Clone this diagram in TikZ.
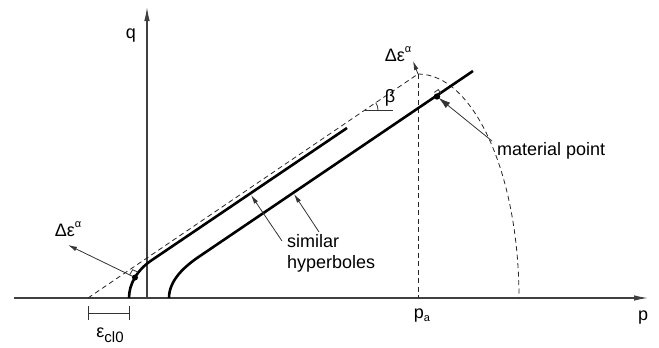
\documentclass[tikz,border=0pt]{standalone}
\usepackage{fontspec}
\setmainfont{Liberation Sans}
\usetikzlibrary{arrows.meta,calc}
\begin{document}
\begin{tikzpicture}[x=1pt,y=-1pt,
  axis/.style={line width=1.1pt, draw=black!75, -{Latex[length=14pt,width=5.5pt]}},
  hyp/.style={line width=2.6pt},
  thin/.style={line width=0.8pt, draw=black!80},
  dsh/.style={line width=0.8pt, draw=black!85, dash pattern=on 5pt off 3.5pt},
  lbl/.style={font=\fontsize{18}{21}\selectfont, inner sep=0pt},
  arr/.style={thin, -{Latex[length=9pt,width=4.5pt]}},
  bigarr/.style={thin, -{Latex[length=12pt,width=7pt]}},
  dotpt/.style={inner sep=0pt, minimum size=0pt},
]
\useasboundingbox (0,0) rectangle (659,348);
% axes
\coordinate (pstart) at (14,298);
\coordinate (pend) at (648,298);
\coordinate (O) at (147,298);
\coordinate (qtop) at (147,7);
\draw[axis] (pstart) -- (pend);
\draw[axis] (O) -- (qtop);
\node[lbl] (q) at (131,36) {q};
\node[lbl] (p) at (643,318) {p};
\node[lbl] (pa) at (422,316) {p\raisebox{-3pt}{\fontsize{11}{11}\selectfont a}};
% dashed construction
\coordinate (A) at (418,74);
\coordinate (D0) at (88,298);
\coordinate (PA) at (418,298);
\draw[dsh] (D0) -- (A);
\draw[dsh] (A) -- (PA);
\draw[dsh] (A) arc[start angle=-90,end angle=0,x radius=101,y radius=224];
% hyperbolas
\draw[hyp] (129,298) .. controls (129,284) and (137,270) .. (152,260) -- (347,128);
\draw[hyp] (169,298) .. controls (169,280) and (185,266) .. (200,256) -- (473,71);
% material points
\coordinate (M1) at (135,277.5);
\coordinate (M2) at (437,96.5);
% right-angle markers
\draw[thin] (M1) ++(-5.4,-2.6) -- ++(3.1,-5.2) -- ++(5.4,2.6);
\draw[thin] (M2) ++(-2.8,-4.1) -- ++(4.1,-2.8) -- ++(2.8,4.1);
% flow vectors
\coordinate (F1) at (68,245);
\draw[arr] (M1) -- (F1);
\node[lbl] (de1) at (68,229) {Δε\raisebox{9pt}{\fontsize{11}{11}\selectfont α}};
\coordinate (F2) at (413,61);
\draw[arr] (A) -- (F2);
\node[lbl] (de2) at (398,54) {Δε\raisebox{9pt}{\fontsize{11}{11}\selectfont α}};
% beta
\coordinate (B0) at (365,110);
\coordinate (B1) at (393,110);
\draw[thin] (B0) -- (B1);
\draw[thin] (378,110) arc[start angle=0,end angle=-34,radius=13];
\node[lbl] (beta) at (390,98) {β};
% material point label
\node[lbl, anchor=west] (mp) at (497,151) {material point};
\coordinate (mpt) at (492,141);
\draw[bigarr, shorten >=2pt] (mpt) -- (M2);
% similar hyperboles
\node[lbl, align=left, anchor=north west] (sh) at (287,234) {similar\\hyperboles};
\coordinate (s1) at (282,241);
\coordinate (s2) at (319,232);
\coordinate (h1) at (251,195);
\coordinate (h2) at (294,194);
\draw[arr] (s1) -- (h1);
\draw[arr] (s2) -- (h2);
% dots
\fill (M1) circle (3);
\fill (M2) circle (3.2);
% epsilon_cl0 dimension
\coordinate (e0) at (88,313);
\coordinate (e1) at (129,313);
\draw[thin] (e0) -- (e1);
\draw[thin] (88,306) -- (88,320);
\draw[thin] (129,306) -- (129,320);
\node[lbl] (ecl) at (110,335) {ε\raisebox{-5pt}{\fontsize{15}{15}\selectfont cl0}};
\end{tikzpicture}
\end{document}
